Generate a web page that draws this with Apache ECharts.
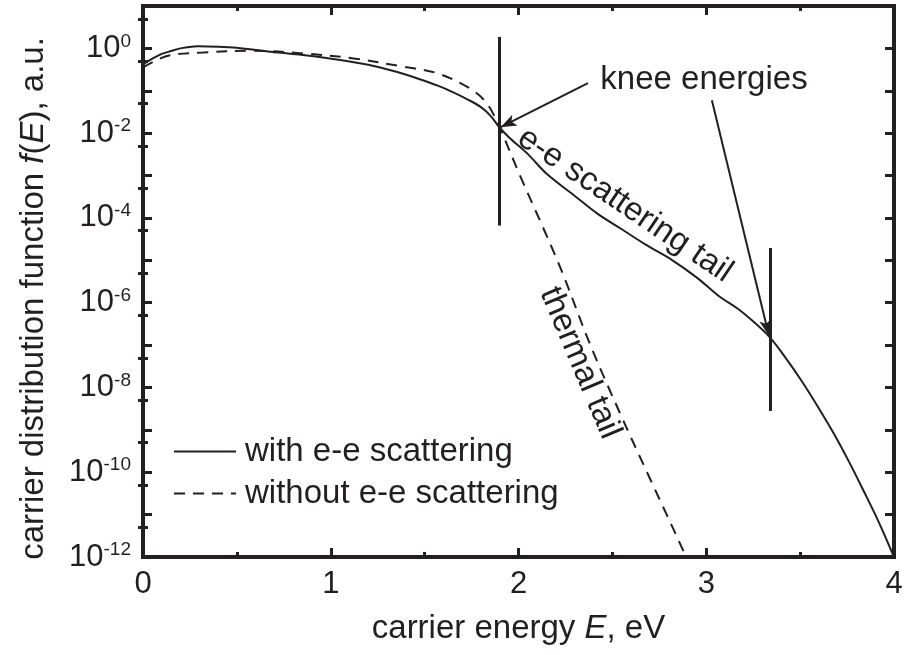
<!DOCTYPE html>
<html>
<head>
<meta charset="utf-8">
<script src="https://cdn.jsdelivr.net/npm/echarts@6/dist/echarts.min.js"></script>
<style>
  html, body { margin: 0; padding: 0; background: #ffffff; }
  #chart { width: 905px; height: 655px; }
</style>
</head>
<body>
<div id="chart"></div>
<script>
// Carrier distribution with electron-electron scattering (solid curve)
const energyWith = [0, 0.05, 0.1, 0.15, 0.2, 0.29, 0.4, 0.5, 0.68, 0.94, 1.2, 1.35, 1.47, 1.57, 1.65, 1.73, 1.8, 1.85, 1.898,
  1.95, 2.05, 2.15, 2.3, 2.42, 2.55, 2.68, 2.82, 2.95, 3.07, 3.17, 3.26, 3.34, 3.42, 3.51, 3.6, 3.68, 3.76, 3.84, 3.92, 4.0];
const fWith = [0.42, 0.575, 0.74, 0.87, 1.0, 1.13, 1.1, 1.03, 0.83, 0.63, 0.41, 0.28, 0.19, 0.132, 0.093, 0.062, 0.041, 0.026, 0.0138,
  7.9e-3, 3.2e-3, 1.1e-3, 3.3e-4, 1.26e-4, 5.4e-5, 2.3e-5, 1.0e-5, 3.9e-6, 1.4e-6, 7.1e-7, 3.3e-7, 1.5e-7, 5.2e-8, 1.38e-8,
  3.2e-9, 8.1e-10, 1.78e-10, 3.5e-11, 6.5e-12, 1.0e-12];

// Carrier distribution without electron-electron scattering (dashed curve)
const energyWithout = [0, 0.053, 0.144, 0.32, 0.586, 0.85, 1.12, 1.385, 1.566, 1.742, 1.832, 1.898, 2.008, 2.22, 2.38, 2.54, 2.7, 2.878, 2.89];
const fWithout = [0.355, 0.48, 0.69, 0.8, 0.88, 0.76, 0.58, 0.37, 0.26, 0.113, 0.05, 0.014, 1.0e-3, 7.2e-6, 1.07e-7, 2.5e-9, 7.1e-11, 1.4e-12, 1.0e-12];

const seriesNames = ['with e-e scattering', 'without e-e scattering'];

// Axis ranges and labelled decades
const xRange = [0, 4];
const yRange = [1e-12, 10];
const yLabelExponents = [0, -2, -4, -6, -8, -10, -12];
// minor ticks sit at 5 x 10^k (log10(5) above each decade)
const yMinorTickExponents = [-11.301, -10.301, -9.301, -8.301, -7.301, -6.301, -5.301, -4.301, -3.301, -2.301, -1.301, -0.301, 0.699];

// Knee-energy markers: vertical bars [E, fTop, fBottom]
const kneeBars = [[1.898, 1.86, 6.6e-5], [3.343, 1.95e-5, 2.8e-9]];
// Arrows from the caption to each knee: [E0, f0, E1, f1]
const kneeArrows = [[2.37, 0.151, 1.905, 0.0138], [3.03, 0.060, 3.334, 1.66e-7]];
// Text annotations: [E, f, text, rotation]
const annotations = [
  [2.988, 0.178, 'knee energies', 0],
  [2.567, 2.0e-4, 'e-e scattering tail', -34],
  [2.327, 3.8e-8, 'thermal tail', -67]
];

const ink = '#231f20';
const font = 'Liberation Sans, Arial, Helvetica, sans-serif';
const textSize = 33;

const pairs = (xs, ys) => xs.map((x, i) => [x, ys[i]]);

const chart = echarts.init(document.getElementById('chart'), null, { renderer: 'canvas' });

const frameLine = { show: true, onZero: false, lineStyle: { color: ink, width: 4, cap: 'square' } };
const hiddenLabel = { show: false };

const option = {
  backgroundColor: '#ffffff',
  animation: false,
  grid: { left: 143, right: 11, top: 6, bottom: 98, containLabel: false, outerBoundsMode: 'none' },
  legend: {
    data: seriesNames,
    orient: 'vertical',
    left: 168,
    top: 430,
    itemWidth: 62,
    itemHeight: 16,
    itemGap: 9,
    itemStyle: { opacity: 0, color: 'transparent', borderColor: 'transparent', borderWidth: 0 },
    textStyle: { fontFamily: font, fontSize: textSize, color: ink, padding: [0, 0, 0, 4] },
    selectedMode: false
  },
  xAxis: [
    {
      type: 'value', position: 'bottom', min: xRange[0], max: xRange[1], interval: 1,
      axisLine: frameLine,
      axisTick: { show: true, inside: true, length: 9, lineStyle: { color: ink, width: 3 } },
      minorTick: { show: true, splitNumber: 2, length: 5, lineStyle: { color: ink, width: 3 } },
      axisLabel: { show: true, margin: 12, fontFamily: font, fontSize: 31, color: ink },
      splitLine: { show: false },
      name: '{n|carrier energy }{i|E}{n|, eV}',
      nameLocation: 'middle',
      nameGap: 55,
      nameTextStyle: {
        rich: {
          n: { fontFamily: font, fontSize: textSize, color: ink },
          i: { fontFamily: font, fontSize: textSize, color: ink, fontStyle: 'italic' }
        }
      }
    },
    {
      type: 'value', position: 'top', min: xRange[0], max: xRange[1], interval: 1,
      axisLine: frameLine,
      axisTick: { show: true, inside: true, length: 9, lineStyle: { color: ink, width: 3 } },
      minorTick: { show: true, splitNumber: 2, length: 5, lineStyle: { color: ink, width: 3 } },
      axisLabel: hiddenLabel,
      splitLine: { show: false }
    }
  ],
  yAxis: [
    {
      type: 'log', logBase: 10, position: 'left', min: yRange[0], max: yRange[1], interval: 1,
      axisLine: frameLine,
      axisTick: { show: true, inside: true, length: 9, lineStyle: { color: ink, width: 3 } },
      axisLabel: {
        show: true, margin: 12,
        formatter: function (v) {
          const e = Math.round(Math.log10(v));
          return yLabelExponents.indexOf(e) >= 0 ? '{b|10}{s|' + e + '}' : '';
        },
        rich: {
          b: { fontFamily: font, fontSize: 31, color: ink },
          s: { fontFamily: font, fontSize: 19, color: ink, verticalAlign: 'top', padding: [0, 0, 14, 0] }
        }
      },
      splitLine: { show: false },
      name: '{n|carrier distribution function }{i|f}{n|(}{i|E}{n|), a.u.}',
      nameLocation: 'middle',
      nameRotate: 90,
      nameGap: 93,
      nameTextStyle: {
        padding: [0, 34, 0, 0],
        rich: {
          n: { fontFamily: font, fontSize: textSize, color: ink },
          i: { fontFamily: font, fontSize: textSize, color: ink, fontStyle: 'italic' }
        }
      }
    },
    {
      type: 'value', position: 'left', min: -12, max: 1,
      axisLine: { show: false },
      axisTick: { show: true, inside: true, length: 5, customValues: yMinorTickExponents, lineStyle: { color: ink, width: 3 } },
      axisLabel: hiddenLabel,
      splitLine: { show: false }
    },
    {
      type: 'log', logBase: 10, position: 'right', min: yRange[0], max: yRange[1], interval: 1,
      axisLine: frameLine,
      axisTick: { show: true, inside: true, length: 9, lineStyle: { color: ink, width: 3 } },
      axisLabel: hiddenLabel,
      splitLine: { show: false }
    },
    {
      type: 'value', position: 'right', min: -12, max: 1,
      axisLine: { show: false },
      axisTick: { show: true, inside: true, length: 5, customValues: yMinorTickExponents, lineStyle: { color: ink, width: 3 } },
      axisLabel: hiddenLabel,
      splitLine: { show: false }
    }
  ],
  series: [
    {
      name: seriesNames[0],
      type: 'line',
      xAxisIndex: 0, yAxisIndex: 0,
      data: pairs(energyWith, fWith),
      showSymbol: false, symbol: 'none',
      smooth: 0.35,
      lineStyle: { color: ink, width: 2 },
      itemStyle: { color: ink },
      z: 3
    },
    {
      name: seriesNames[1],
      type: 'line',
      xAxisIndex: 0, yAxisIndex: 0,
      data: pairs(energyWithout, fWithout),
      showSymbol: false, symbol: 'none',
      smooth: 0.35,
      lineStyle: { color: ink, width: 2, type: [11, 8] },
      itemStyle: { color: ink },
      z: 3
    },
    {
      // knee markers, arrows and captions
      name: 'annotations',
      type: 'scatter',
      xAxisIndex: 0, yAxisIndex: 0,
      silent: true,
      symbolSize: 0,
      itemStyle: { opacity: 1, color: ink },
      data: annotations.map(a => ({
        value: [a[0], a[1]],
        label: {
          show: true, position: 'inside', formatter: a[2], rotate: a[3],
          fontFamily: font, fontSize: textSize, color: ink, opacity: 1
        }
      })),
      markLine: {
        silent: true,
        symbol: 'none',
        animation: false,
        label: { show: false },
        data: kneeBars.map(b => [
          { coord: [b[0], b[1]], lineStyle: { color: ink, width: 3, type: 'solid' } },
          { coord: [b[0], b[2]] }
        ]).concat(kneeArrows.map(a => [
          { coord: [a[0], a[1]], symbol: 'none', lineStyle: { color: ink, width: 2, type: 'solid' } },
          { coord: [a[2], a[3]], symbol: 'arrow', symbolSize: [9, 16] }
        ]))
      },
      z: 4
    }
  ]
};

chart.setOption(option);
</script>
</body>
</html>
